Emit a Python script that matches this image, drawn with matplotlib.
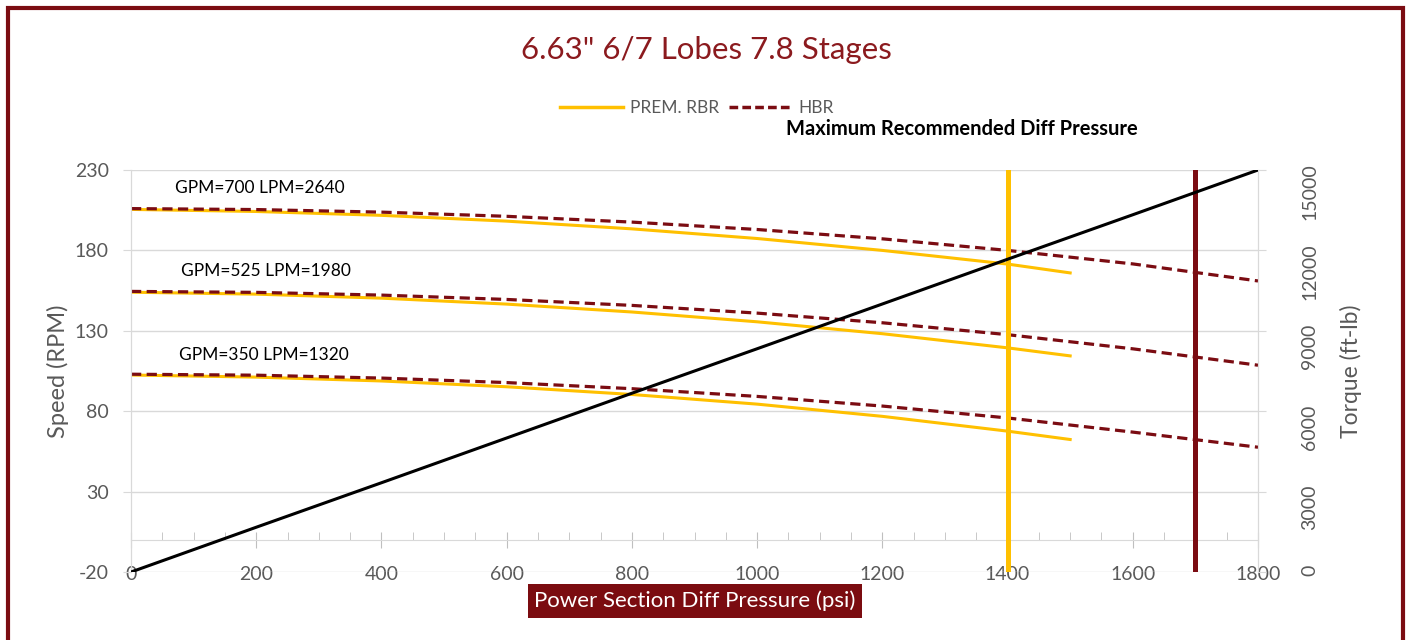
import matplotlib.pyplot as plt
from matplotlib.lines import Line2D
from matplotlib.patches import Rectangle
from matplotlib.ticker import MultipleLocator

plt.rcParams['font.family'] = ['Lato', 'DejaVu Sans']
plt.rcParams['axes.unicode_minus'] = False

# pressure points (psi)
p_rbr = [0, 200, 400, 600, 800, 1000, 1200, 1400, 1500]
p_hbr = [0, 200, 400, 600, 800, 1000, 1200, 1400, 1600, 1800]

# speed (RPM) - PREM. RBR
rbr_700 = [205.5, 204.2, 201.8, 198.2, 193.4, 187.4, 180, 171.5, 166]
rbr_525 = [154, 152.8, 150.3, 146.6, 141.7, 135.6, 128.2, 119.4, 114.4]
rbr_350 = [102.5, 101.2, 98.8, 95.2, 90.4, 84.4, 76.8, 67.6, 62.4]

# speed (RPM) - HBR
hbr_700 = [206, 205.4, 203.8, 201.2, 197.6, 193, 187.2, 180, 171.6, 161]
hbr_525 = [154.5, 153.9, 152.2, 149.5, 145.8, 141, 135, 127.6, 118.8, 108.6]
hbr_350 = [103, 102.4, 100.6, 97.8, 94, 89.2, 83.2, 75.8, 67, 57.6]

# torque line
p_torque = [0, 200, 400, 600, 800, 1000, 1200, 1400, 1600, 1800]
torque = [0, 1670, 3330, 5000, 6670, 8330, 10000, 11670, 13330, 15000]

flow_labels = ['GPM=700 LPM=2640', 'GPM=525 LPM=1980', 'GPM=350 LPM=1320']
label_pos = [(205, 219), (215, 167), (212, 115)]

rbr_limit = 1400
hbr_limit = 1700

gold = '#FFC000'
maroon = '#7B0C12'
grey = '#595959'
grid_c = '#D9D9D9'

fig = plt.figure(figsize=(14.12, 6.4), dpi=100)
ax = fig.add_axes([131 / 1412, 1 - 572 / 640, 1127 / 1412, 402 / 640])
ax2 = ax.twinx()

for yv in [rbr_700, rbr_525, rbr_350]:
    ax.plot(p_rbr, yv, color=gold, lw=2.2, zorder=3)
for yv in [hbr_700, hbr_525, hbr_350]:
    ax.plot(p_hbr, yv, color=maroon, lw=2.3, ls=(0, (3.2, 1.7)), zorder=4)

ax.axvline(rbr_limit, color=gold, lw=3.6, zorder=5)
ax.axvline(hbr_limit, color=maroon, lw=3.6, zorder=5)

ax2.plot(p_torque, torque, color='black', lw=2.2, zorder=6)

for txt, (x, y) in zip(flow_labels, label_pos):
    ax.text(x, y, txt, ha='center', va='center', fontsize=12.5, color='black')

ax.set_xlim(0, 1800)
ax.set_ylim(-20, 230)
ax2.set_ylim(0, 15000)
ax.set_yticks([-20, 30, 80, 130, 180, 230])
ax2.set_yticks(range(0, 15001, 3000))
ax.xaxis.set_major_locator(MultipleLocator(200))
ax.xaxis.set_minor_locator(MultipleLocator(50))
ax.grid(axis='y', color=grid_c, lw=1)
ax.set_axisbelow(True)

# spines
ax.spines['bottom'].set_position(('data', 0))
for a in (ax, ax2):
    a.spines['top'].set_visible(False)
    for s in ('left', 'right', 'bottom'):
        a.spines[s].set_color(grid_c)
ax2.spines['bottom'].set_visible(False)

ax.tick_params(axis='x', which='major', direction='inout', length=12, color='#BFBFBF',
               labelsize=14, labelcolor=grey, pad=13)
ax.tick_params(axis='x', which='minor', direction='in', length=6, color='#BFBFBF')
ax.tick_params(axis='y', length=6, color=grid_c, labelsize=14, labelcolor=grey, pad=10)
ax2.tick_params(axis='y', length=6, color=grid_c, labelsize=14, labelcolor=grey,
                labelrotation=90, pad=25)

ax.set_ylabel('Speed (RPM)', fontsize=17, color=grey, labelpad=4)
ax2.set_ylabel('Torque (ft-lb)', fontsize=16.5, color=grey, labelpad=16)

# title and legend
fig.text(706 / 1412, 1 - 50 / 640, '6.63" 6/7 Lobes 7.8 Stages', ha='center', va='center',
         fontsize=22.5, color='#8B1A1E')
handles = [Line2D([], [], color=gold, lw=2.5),
           Line2D([], [], color=maroon, lw=2.5, ls=(0, (2.5, 1.2)))]
fig.legend(handles, ['PREM. RBR', 'HBR'], loc='center', ncol=2,
           bbox_to_anchor=(697 / 1412, 1 - 108 / 640), frameon=False,
           fontsize=12.5, labelcolor=grey, handlelength=3.6, columnspacing=0.6,
           handletextpad=0.4)
fig.text(962 / 1412, 1 - 129 / 640, 'Maximum Recommended Diff Pressure', ha='center',
         va='center', fontsize=14.5, fontweight='bold', color='black')

# x label in a filled box
fig.text(695 / 1412, 1 - 601 / 640, 'Power Section Diff Pressure (psi)', ha='center',
         va='center', fontsize=16, color='white',
         bbox=dict(boxstyle='square,pad=0.3', fc='#7B0C10', ec='none'))

# outer frame
fig.patches.append(Rectangle((8 / 1412, -0.05), 1395 / 1412, 1.05 - 8 / 640,
                             transform=fig.transFigure, fill=False,
                             ec='#7B0C12', lw=3))

fig.savefig('out.png', dpi=100)
